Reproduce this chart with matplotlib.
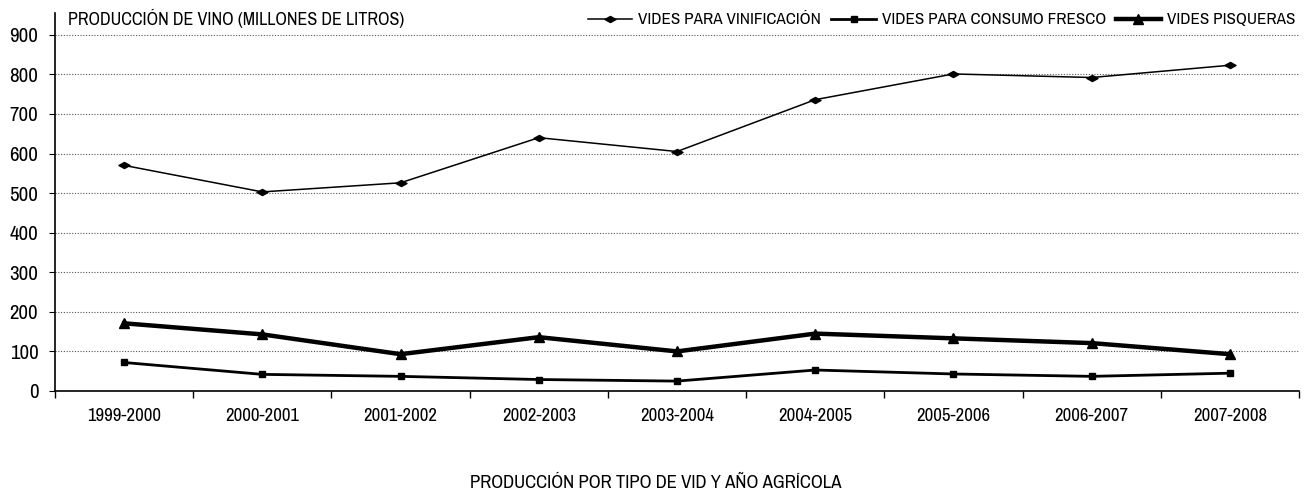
import numpy as np
import matplotlib.pyplot as plt
from matplotlib.path import Path

plt.rcParams['font.family'] = ['Archivo Narrow', 'Roboto Condensed', 'DejaVu Sans']

years = ["1999-2000", "2000-2001", "2001-2002", "2002-2003", "2003-2004",
         "2004-2005", "2005-2006", "2006-2007", "2007-2008"]
vinificacion = [570, 503, 526, 640, 605, 736, 801, 792, 823]
consumo_fresco = [72, 42, 37, 29, 25, 53, 43, 37, 45]
pisqueras = [171, 143, 93, 136, 100, 145, 133, 121, 93]

# flattened diamond like the original
flat_diamond = Path([(-1, 0), (0, 0.55), (1, 0), (0, -0.55), (-1, 0)],
                    [Path.MOVETO, Path.LINETO, Path.LINETO, Path.LINETO, Path.CLOSEPOLY])

fig = plt.figure(figsize=(13.12, 4.96), dpi=100)
ax = fig.add_axes([0.0419, 0.2117, 0.9482, 0.7621])

x = np.arange(len(years))
ax.plot(x, vinificacion, color="black", lw=1.1, marker=flat_diamond, ms=8, label="VIDES PARA VINIFICACIÓN")
ax.plot(x, consumo_fresco, color="black", lw=2.0, marker="s", ms=5, label="VIDES PARA CONSUMO FRESCO")
ax.plot(x, pisqueras, color="black", lw=3.2, marker="^", ms=6.5, label="VIDES PISQUERAS")

ax.set_xlim(-0.5, len(years) - 0.5)
ax.set_ylim(0, 955)
ax.set_yticks(range(0, 901, 100))
ax.set_xticks(x)
ax.set_xticklabels(years, fontsize=13.5)
ax.set_xticks(np.arange(-0.5, len(years), 1), minor=True)
ax.tick_params(axis="x", which="major", length=0, pad=12)
ax.tick_params(axis="x", which="minor", length=5, width=1)
ax.tick_params(axis="y", length=4, labelsize=15, pad=8)

ax.grid(axis="y", linestyle=(0, (1, 1.5)), color="#555555", lw=0.8)
ax.set_axisbelow(True)
for s in ["top", "right"]:
    ax.spines[s].set_visible(False)
ax.spines["left"].set_linewidth(1.2)
ax.spines["bottom"].set_linewidth(1.2)

fig.text(0.052, 0.963, "PRODUCCIÓN DE VINO (MILLONES DE LITROS)", fontsize=13, va="center", ha="left")
fig.text(0.5, 0.026, "PRODUCCIÓN POR TIPO DE VID Y AÑO AGRÍCOLA", fontsize=13.5, ha="center", va="center")

fig.legend(*ax.get_legend_handles_labels(), loc="center right",
           bbox_to_anchor=(1295 / 1312, 1 - 20 / 496), bbox_transform=fig.transFigure,
           ncol=3, frameon=False, fontsize=12.3, borderpad=0, borderaxespad=0,
           handlelength=2.6, columnspacing=0.6, handletextpad=0.35)

fig.savefig("out.png", dpi=100)
